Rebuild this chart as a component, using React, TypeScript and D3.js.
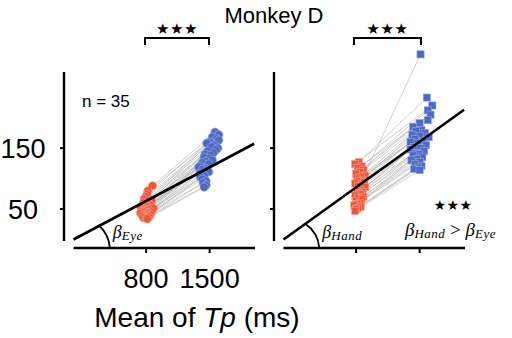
import React from 'react'
import * as d3 from 'd3'

// Monkey D, eye vs hand, mean Tp (ms) on x
const title = 'Monkey D'
const xTicks = [800, 1500]
const yTicks = [50, 150]
const nLabel = 'n = 35'
const stars = '★★★'

// eye condition (circles)
const eyeShortX = [870, 820, 810, 795, 780, 860, 805, 770, 835, 790, 850, 760, 815, 800, 745, 880, 790, 830, 770, 805, 750, 860, 785, 820, 740, 800, 845, 775, 810, 760, 790, 830, 770, 800, 815]
const eyeShortY = [88, 80, 74, 70, 66, 64, 62, 60, 58, 57, 56, 55, 54, 53, 52, 51, 50, 49, 48, 47, 46, 45, 45, 44, 43, 42, 41, 40, 40, 39, 38, 37, 36, 35, 34]
const eyeLongX = [1560, 1600, 1530, 1580, 1600, 1500, 1470, 1560, 1520, 1590, 1570, 1480, 1540, 1450, 1510, 1440, 1500, 1530, 1460, 1420, 1490, 1400, 1380, 1450, 1420, 1470, 1490, 1390, 1440, 1400, 1420, 1460, 1430, 1460, 1440]
const eyeLongY = [176, 172, 168, 165, 163, 160, 158, 155, 152, 150, 147, 145, 142, 140, 138, 135, 133, 130, 128, 126, 124, 121, 119, 117, 115, 113, 111, 108, 105, 102, 99, 96, 93, 89, 86]

// hand condition (squares)
const handShortX = [820, 830, 790, 860, 820, 880, 840, 800, 900, 850, 810, 870, 830, 890, 790, 860, 820, 900, 840, 810, 870, 830, 850, 790, 880, 820, 860, 800, 840, 810, 780, 850, 820, 800, 790]
const handShortY = [84, 127, 124, 120, 117, 114, 111, 108, 105, 103, 100, 98, 96, 94, 92, 90, 88, 86, 82, 80, 78, 76, 74, 72, 70, 68, 66, 63, 60, 58, 56, 54, 52, 50, 47]
const handLongX = [1510, 1580, 1640, 1590, 1620, 1590, 1500, 1430, 1520, 1460, 1560, 1420, 1500, 1600, 1450, 1540, 1400, 1480, 1570, 1440, 1510, 1400, 1550, 1460, 1490, 1430, 1530, 1470, 1410, 1500, 1450, 1520, 1480, 1440, 1500]
const handLongY = [304, 233, 220, 212, 205, 196, 191, 185, 180, 178, 175, 172, 170, 168, 165, 162, 160, 158, 155, 152, 150, 148, 145, 142, 140, 138, 135, 132, 130, 127, 124, 121, 118, 116, 114]

const eyeSlope = 0.079
const handSlope = 0.107

const RED = '#ef5539'
const RED_EDGE = '#f6a190'
const BLUE = '#4d69c4'
const BLUE_EDGE = '#95a6de'
const SANS = '"Liberation Sans", Arial, sans-serif'
const SERIF = '"Liberation Serif", "Times New Roman", serif'
const STAR_FONT = '"DejaVu Sans", sans-serif'

const y = d3.scaleLinear().domain([0, 275]).range([239.5, 72])
const axisY = 248

type PanelProps = {
  x0: number
  shortX: number[]
  shortY: number[]
  longX: number[]
  longY: number[]
  slope: number
  square: boolean
  arcFrom: number
  arcTo: number
  sub: string
}

const Panel = (p: PanelProps) => {
  const x = d3.scaleLinear().domain([0, 2000]).range([p.x0 + 9.5, p.x0 + 191])
  const line = d3.line<number>().x(d => x(d)).y(d => y(d * p.slope))
  const a1 = [x(p.arcFrom), y(p.arcFrom * p.slope)]
  const a2 = [x(p.arcTo), axisY]
  const mark = (cx: number, cy: number, fill: string, edge: string, i: number) =>
    p.square
      ? <rect key={i} x={cx - 3.6} y={cy - 3.6} width={7.2} height={7.2} fill={fill} stroke={edge} strokeWidth={0.6} />
      : <circle key={i} cx={cx} cy={cy} r={4.2} fill={fill} stroke={edge} strokeWidth={0.7} />
  return (
    <g>
      <line x1={p.x0} x2={p.x0} y1={72} y2={241} stroke="black" strokeWidth={2.4} />
      {yTicks.map(t => (
        <line key={t} x1={p.x0 - 4} x2={p.x0} y1={y(t)} y2={y(t)} stroke="black" strokeWidth={2} />
      ))}
      <line x1={x(0)} x2={x(2000)} y1={axisY} y2={axisY} stroke="black" strokeWidth={2.4} />
      {xTicks.map(t => (
        <line key={t} x1={x(t)} x2={x(t)} y1={axisY} y2={axisY + 5} stroke="black" strokeWidth={2} />
      ))}
      {p.shortX.map((_, i) => (
        <line key={i} x1={x(p.shortX[i])} y1={y(p.shortY[i])} x2={x(p.longX[i])} y2={y(p.longY[i])}
          stroke="#b4b4b4" strokeWidth={0.6} />
      ))}
      {p.shortX.map((v, i) => mark(x(v), y(p.shortY[i]), RED, RED_EDGE, i))}
      {p.longX.map((v, i) => mark(x(v), y(p.longY[i]), BLUE, BLUE_EDGE, i))}
      <path d={line([0, 1990]) || ''} stroke="black" strokeWidth={2.6} fill="none" />
      <path d={`M${a1[0]},${a1[1]} A33,33 0 0 1 ${a2[0]},${a2[1]}`} stroke="black" strokeWidth={1.8} fill="none" />
      <text x={a2[0] + 3} y={238} fontFamily={SERIF} fontStyle="italic" fontSize={18}>
        β<tspan fontSize={13} dy={2} letterSpacing={0.5}>{p.sub}</tspan>
      </text>
    </g>
  )
}

const Bracket = ({ x1, x2 }: { x1: number; x2: number }) => (
  <g>
    <path d={`M${x1},45 V38 H${x2} V45`} stroke="black" strokeWidth={2} fill="none" />
    <text x={(x1 + x2) / 2} y={34} textAnchor="middle" fontFamily={STAR_FONT} fontSize={15} letterSpacing={0.5}>{stars}</text>
  </g>
)

const App = () => {
  const xl = d3.scaleLinear().domain([0, 2000]).range([73.5, 255])
  return (
    <svg width={512} height={338} style={{ position: 'absolute', left: 0, top: 0, background: 'white' }}>
      <text x={274} y={23} textAnchor="middle" fontFamily={SANS} fontSize={22}>{title}</text>
      <Bracket x1={145} x2={209} />
      <Bracket x1={354} x2={421} />
      <text x={82} y={107} fontFamily={SANS} fontSize={17}>{nLabel}</text>
      {yTicks.map(t => (
        <text key={t} x={23} y={y(t) + 10} textAnchor="middle" fontFamily={SANS} fontSize={27}>{t}</text>
      ))}
      <Panel x0={64} shortX={eyeShortX} shortY={eyeShortY} longX={eyeLongX} longY={eyeLongY}
        slope={eyeSlope} square={false} arcFrom={285} arcTo={400} sub="Eye" />
      <Panel x0={274} shortX={handShortX} shortY={handShortY} longX={handLongX} longY={handLongY}
        slope={handSlope} square={true} arcFrom={240} arcTo={395} sub="Hand" />
      {xTicks.map(t => (
        <text key={t} x={xl(t)} y={288} textAnchor="middle" fontFamily={SANS} fontSize={27}>{t}</text>
      ))}
      <text x={197} y={327} textAnchor="middle" fontFamily={SANS} fontSize={28}>
        Mean of <tspan fontStyle="italic">Tp</tspan> (ms)
      </text>
      <text x={453} y={210} textAnchor="middle" fontFamily={STAR_FONT} fontSize={14} letterSpacing={0.5}>{stars}</text>
      <text x={405} y={236} fontFamily={SERIF} fontStyle="italic" fontSize={19}>
        β<tspan fontSize={13} dy={2} letterSpacing={0.5}>Hand</tspan><tspan fontStyle="normal" fontSize={19} dy={-2}> &gt; </tspan>β<tspan fontSize={13} dy={2} letterSpacing={0.5}>Eye</tspan>
      </text>
    </svg>
  )
}

export default App
